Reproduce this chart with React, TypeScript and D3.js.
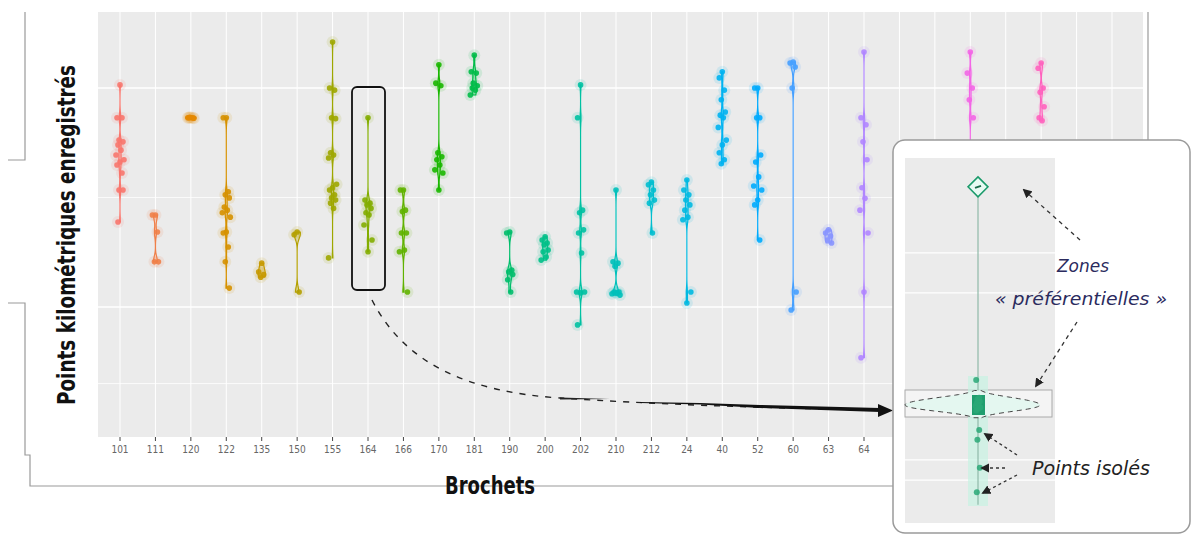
import React from 'react';
import * as d3 from 'd3';

// ---------- data ----------
const categories = ['101','111','120','122','135','150','155','164','166','170','181','190','200','202','210','212','24','40','52','60','63','64','65','66','7','70','72','8','80'];

const pk101 = [100.7, 93.2, 93.2, 88.1, 87.7, 87.0, 85.8, 84.7, 83.6, 83.1, 82.4, 80.6, 76.7, 76.7, 69.4];
const pk111 = [71.0, 71.0, 67.1, 60.3, 60.3];
const pk120 = [93.2, 93.2, 93.2, 93.3, 93.1, 93.2];
const pk122 = [93.2, 93.2, 76.3, 75.6, 74.9, 72.8, 72.1, 71.5, 70.5, 67.1, 66.9, 63.7, 60.3, 54.3];
const pk135 = [60.0, 58.0, 57.4, 56.8];
const pk150 = [67.1, 66.5, 53.4];
const pk155 = [110.5, 100.0, 99.5, 93.2, 93.0, 85.2, 84.7, 84.0, 78.0, 77.2, 76.7, 75.6, 74.9, 74.4, 73.7, 72.5, 61.2];
const pk164 = [93.2, 74.4, 73.7, 73.3, 72.5, 71.5, 71.0, 68.7, 65.3, 62.6];
const pk166 = [76.7, 76.7, 72.1, 71.8, 66.9, 66.9, 63.0, 62.6, 53.4];
const pk170 = [105.3, 101.1, 100.5, 85.2, 84.3, 83.6, 82.4, 81.3, 80.6, 76.7];
const pk181 = [107.5, 103.7, 103.4, 101.1, 100.5, 100.0, 99.5, 98.4];
const pk190 = [67.1, 66.9, 58.4, 58.0, 57.4, 56.2, 53.4];
const pk200 = [66.0, 65.3, 64.6, 64.2, 63.0, 62.6, 61.4, 60.7];
const pk202 = [100.7, 93.2, 72.1, 71.5, 67.6, 66.9, 62.3, 53.4, 53.4, 53.2, 45.9];
const pk210 = [76.7, 60.3, 60.0, 59.3, 53.4, 53.4, 53.2, 53.0, 52.7];
const pk212 = [78.5, 77.9, 76.7, 75.6, 74.4, 73.7, 66.9];
const pk24 = [79.0, 76.7, 75.6, 74.4, 73.3, 72.1, 70.5, 69.9, 53.4, 50.9];
const pk40 = [103.7, 102.3, 99.5, 97.3, 94.5, 93.8, 93.2, 91.0, 88.1, 87.0, 85.2, 83.6, 82.7];
const pk52 = [100.0, 100.0, 93.2, 93.2, 84.7, 83.1, 79.7, 77.6, 76.7, 74.4, 73.3, 65.3];
const pk60 = [105.9, 105.7, 104.8, 100.0, 53.4, 49.3];
const pk63 = [67.6, 66.9, 66.2, 65.3, 64.6];
const pk64 = [108.2, 93.2, 91.6, 87.7, 83.6, 77.2, 74.8, 72.1, 66.9, 53.4, 38.4];
const pk65: number[] = [];
const pk66: number[] = [];
const pk7 = [108.2, 103.4, 100.0, 97.3, 93.2, 85.0, 78.0];
const pk70: number[] = [];
const pk72 = [105.7, 104.5, 100.0, 99.0, 95.7, 93.2, 92.5];
const pk8: number[] = [];
const pk80: number[] = [];

const series = [pk101, pk111, pk120, pk122, pk135, pk150, pk155, pk164, pk166, pk170, pk181, pk190, pk200, pk202, pk210, pk212, pk24, pk40, pk52, pk60, pk63, pk64, pk65, pk66, pk7, pk70, pk72, pk8, pk80];

const majorY = [50, 100];
const minorY = [75, 32.5];

// inset (zoom on one violin)
const insetPoints = [92.6, 39.4, 34.5, 34.0, 33.5, 33.0, 32.6, 32.2, 31.8, 31.4, 31.0, 25.6, 22.9, 15.2, 8.5];
const insetGrid = [74.4, 63.4, 17.4, 11.8];

const jitter = [0, -3, 2, -1, 3, -2, 1, -4, 4];

// ---------- layout ----------
const W = 1193, H = 535;
const panel = { left: 98, right: 1143, top: 12, bottom: 437 };

const x = d3.scaleLinear().domain([0, 21]).range([120, 864]);
const y = d3.scaleLinear().domain([20.3, 117.35]).range([panel.bottom, panel.top]);

// ggplot-like hue palette (polar CIE-LUV, c=100, l=65)
function hueLuv(h: number, c = 100, l = 65) {
  const hr = (h * Math.PI) / 180;
  const U = c * Math.cos(hr), V = c * Math.sin(hr);
  const Xn = 95.047, Yn = 100, Zn = 108.883;
  const un = (4 * Xn) / (Xn + 15 * Yn + 3 * Zn), vn = (9 * Yn) / (Xn + 15 * Yn + 3 * Zn);
  const Y = l > 8 ? Yn * Math.pow((l + 16) / 116, 3) : (Yn * l) / 903.3;
  const u = U / (13 * l) + un, v = V / (13 * l) + vn;
  const X = (9 * Y * u) / (4 * v);
  const Z = (Y * (12 - 3 * u - 20 * v)) / (4 * v);
  const xx = X / 100, yy = Y / 100, zz = Z / 100;
  const lin = [
    3.240479 * xx - 1.53715 * yy - 0.498535 * zz,
    -0.969256 * xx + 1.875992 * yy + 0.041556 * zz,
    0.055648 * xx - 0.204043 * yy + 1.057311 * zz,
  ];
  const g = lin.map(cv => {
    const s = cv <= 0.0031308 ? 12.92 * cv : 1.055 * Math.pow(cv, 1 / 2.4) - 0.055;
    return Math.round(Math.max(0, Math.min(1, s)) * 255);
  });
  return d3.rgb(g[0], g[1], g[2]).formatHex();
}
const color = (i: number) => hueLuv(15 + (360 * i) / categories.length);

const BW = 1.2;
function density(vals: number[], t: number) {
  let s = 0;
  for (const v of vals) s += Math.exp(-0.5 * ((t - v) / BW) ** 2);
  return s / (vals.length * BW * Math.sqrt(2 * Math.PI));
}
function grid(vals: number[]) {
  const lo = d3.min(vals) as number, hi = d3.max(vals) as number;
  const n = 80;
  return d3.range(n + 1).map(k => lo + ((hi - lo) * k) / n);
}
const globalMax = d3.max(series.filter(s => s.length).map(s => d3.max(grid(s).map(t => density(s, t))) as number)) as number;

const FONT = "'DejaVu Sans Condensed', 'DejaVu Sans', sans-serif";

// inset scales
const iy = d3.scaleLinear().domain([0, 100]).range([523, 160]);
const IX = 978;
const insetBW = 1.1;
const insetCluster = insetPoints.filter(v => v > 30 && v < 35);
function insetDensity(t: number) {
  let s = 0;
  for (const v of insetCluster) s += Math.exp(-0.5 * ((t - v) / insetBW) ** 2);
  return s / (insetCluster.length * insetBW * Math.sqrt(2 * Math.PI));
}

export default function App() {
  const area = d3.area<{ t: number; w: number; cx: number }>()
    .y(d => y(d.t))
    .x0(d => d.cx - d.w)
    .x1(d => d.cx + d.w)
    .curve(d3.curveBasis);

  const insetTs = d3.range(0, 61).map(k => 29 + (k * 7.5) / 60);
  const insetMax = d3.max(insetTs.map(insetDensity)) as number;
  const insetArea = d3.area<number>()
    .y(t => iy(t))
    .x0(t => IX - (insetDensity(t) / insetMax) * 73)
    .x1(t => IX + (insetDensity(t) / insetMax) * 62)
    .curve(d3.curveLinear);

  return (
    <svg width={W} height={H} style={{ position: 'absolute', left: 0, top: 0, background: '#fff' }}>
      <defs>
        <marker id="ah" viewBox="0 0 10 10" refX="8" refY="5" markerWidth="7" markerHeight="7" orient="auto-start-reverse">
          <path d="M0,0 L10,5 L0,10 z" fill="#222" />
        </marker>
      </defs>

      {/* frame brackets */}
      <path d="M25,12 V160 H8" fill="none" stroke="#9a9a9a" strokeWidth={1.2} />
      <path d="M8,303 H25 V455 H30 V486 H893" fill="none" stroke="#9a9a9a" strokeWidth={1.2} />
      <path d="M1148,12 V140" fill="none" stroke="#9a9a9a" strokeWidth={1.2} />

      {/* panel */}
      <rect x={panel.left} y={panel.top} width={panel.right - panel.left} height={panel.bottom - panel.top} fill="#EBEBEB" />
      {minorY.map(v => (
        <line key={'mi' + v} x1={panel.left} x2={panel.right} y1={y(v)} y2={y(v)} stroke="#fff" strokeWidth={0.8} />
      ))}
      {majorY.map(v => (
        <line key={'ma' + v} x1={panel.left} x2={panel.right} y1={y(v)} y2={y(v)} stroke="#fff" strokeWidth={1.6} />
      ))}
      {categories.map((c, i) => (
        <line key={'vg' + c} x1={x(i)} x2={x(i)} y1={panel.top} y2={panel.bottom} stroke="#fff" strokeWidth={1} />
      ))}

      {/* violins + points */}
      {series.map((vals, i) => {
        if (!vals.length) return null;
        const col = color(i);
        const cx = x(i);
        const pts = grid(vals).map(t => ({ t, cx, w: (density(vals, t) / globalMax) * 5 }));
        return (
          <g key={'v' + i}>
            {vals.map((v, j) => (
              <circle key={'h' + j} cx={cx + jitter[j % jitter.length]} cy={y(v)} r={6} fill={col} opacity={0.12} />
            ))}
            <path d={area(pts) || ''} fill={col} fillOpacity={0.3} stroke={col} strokeWidth={1.2} />
            {vals.map((v, j) => (
              <circle key={'p' + j} cx={cx + jitter[j % jitter.length]} cy={y(v)} r={2.8} fill={col} opacity={0.9} />
            ))}
          </g>
        );
      })}

      {/* x ticks and labels */}
      {categories.map((c, i) => (
        <g key={'t' + c}>
          <line x1={x(i)} x2={x(i)} y1={panel.bottom} y2={panel.bottom + 4} stroke="#444" strokeWidth={1} />
          <text x={x(i)} y={panel.bottom + 16} textAnchor="middle" fontFamily={FONT} fontSize={10} fill="#666">{c}</text>
        </g>
      ))}

      {/* axis titles */}
      <text x={490} y={494} textAnchor="middle" fontFamily={FONT} fontWeight="bold" fontSize={24} fill="#111"
        textLength={90} lengthAdjust="spacingAndGlyphs">Brochets</text>
      <text transform="translate(75,235) rotate(-90)" textAnchor="middle" fontFamily={FONT} fontWeight="bold" fontSize={24} fill="#111"
        textLength={340} lengthAdjust="spacingAndGlyphs">Points kilométriques enregistrés</text>

      {/* highlight box */}
      <rect x={352} y={87} width={33} height={203} rx={5} fill="none" stroke="#111" strokeWidth={1.8} />

      {/* curved arrow */}
      <path d="M372,300 C405,365 470,392 560,398 S760,408 880,410" fill="none" stroke="#222" strokeWidth={1.4} strokeDasharray="6 7" />
      <path d="M560,397.5 L610,399 L560,399.5 z" fill="#222" />
      <path d="M640,402 L700,403 L760,405 L880,408 L880,412 L760,408 L700,404.5 L640,403 z" fill="#111" />
      <path d="M878,404 L893,410.5 L878,417 z" fill="#111" />

      {/* inset */}
      <rect x={893} y={140} width={297} height={393} rx={12} fill="#fff" stroke="#9a9a9a" strokeWidth={1.5} />
      <rect x={905} y={158} width={150} height={365} fill="#EBEBEB" />
      {insetGrid.map(v => (
        <line key={'ig' + v} x1={905} x2={1055} y1={iy(v)} y2={iy(v)} stroke="#fff" strokeWidth={1.2} />
      ))}
      <rect x={905} y={390} width={147} height={27} fill="#f4f4f4" stroke="#aaa" strokeWidth={1} />
      <rect x={968} y={376} width={20} height={130} fill="#c7f2e3" opacity={0.7} />
      <line x1={IX} x2={IX} y1={iy(92.6)} y2={iy(5)} stroke="#8fb9a8" strokeWidth={1.2} />
      <path d={insetArea(insetTs) || ''} fill="#e4f7f0" stroke="#444" strokeWidth={1} strokeDasharray="5 4" />
      <rect x={972} y={395} width={13} height={20} fill="#1f9e6e" />
      {insetPoints.map((v, j) => (
        <circle key={'ip' + j} cx={IX + jitter[j % jitter.length] * 0.6} cy={iy(v)} r={3} fill="#2aa877" opacity={0.85} />
      ))}
      <path d={`M${IX},${iy(92.6) - 10} L${IX + 10},${iy(92.6)} L${IX},${iy(92.6) + 10} L${IX - 10},${iy(92.6)} z`} fill="#e8faf3" stroke="#1a9a6a" strokeWidth={1.5} />
      <path d={`M${IX - 3},${iy(92.6) + 1} L${IX + 3},${iy(92.6) - 1}`} stroke="#1a6a4a" strokeWidth={2} />

      {/* inset annotations */}
      <line x1={1080} y1={240} x2={1024} y2={190} stroke="#333" strokeWidth={1.3} strokeDasharray="4 4" markerEnd="url(#ah)" />
      <line x1={1077} y1={322} x2={1036} y2={386} stroke="#333" strokeWidth={1.3} strokeDasharray="4 4" markerEnd="url(#ah)" />
      <line x1={1017} y1={455} x2={985} y2={434} stroke="#333" strokeWidth={1.3} strokeDasharray="3 3" markerEnd="url(#ah)" />
      <line x1={1005} y1={468} x2={982} y2={468} stroke="#333" strokeWidth={1.3} strokeDasharray="3 3" markerEnd="url(#ah)" />
      <line x1={1017} y1={475} x2={983} y2={493} stroke="#333" strokeWidth={1.3} strokeDasharray="3 3" markerEnd="url(#ah)" />

      <text x={1083} y={272} textAnchor="middle" fontFamily={FONT} fontStyle="italic" fontSize={18} fill="#2b2b5e"
        textLength={52} lengthAdjust="spacingAndGlyphs">Zones</text>
      <text x={1081} y={305} textAnchor="middle" fontFamily={FONT} fontStyle="italic" fontSize={17} fill="#2b2b5e"
        textLength={172} lengthAdjust="spacingAndGlyphs">« préférentielles »</text>
      <text x={1091} y={475} textAnchor="middle" fontFamily={FONT} fontStyle="italic" fontSize={19} fill="#222"
        textLength={118} lengthAdjust="spacingAndGlyphs">Points isolés</text>
    </svg>
  );
}
